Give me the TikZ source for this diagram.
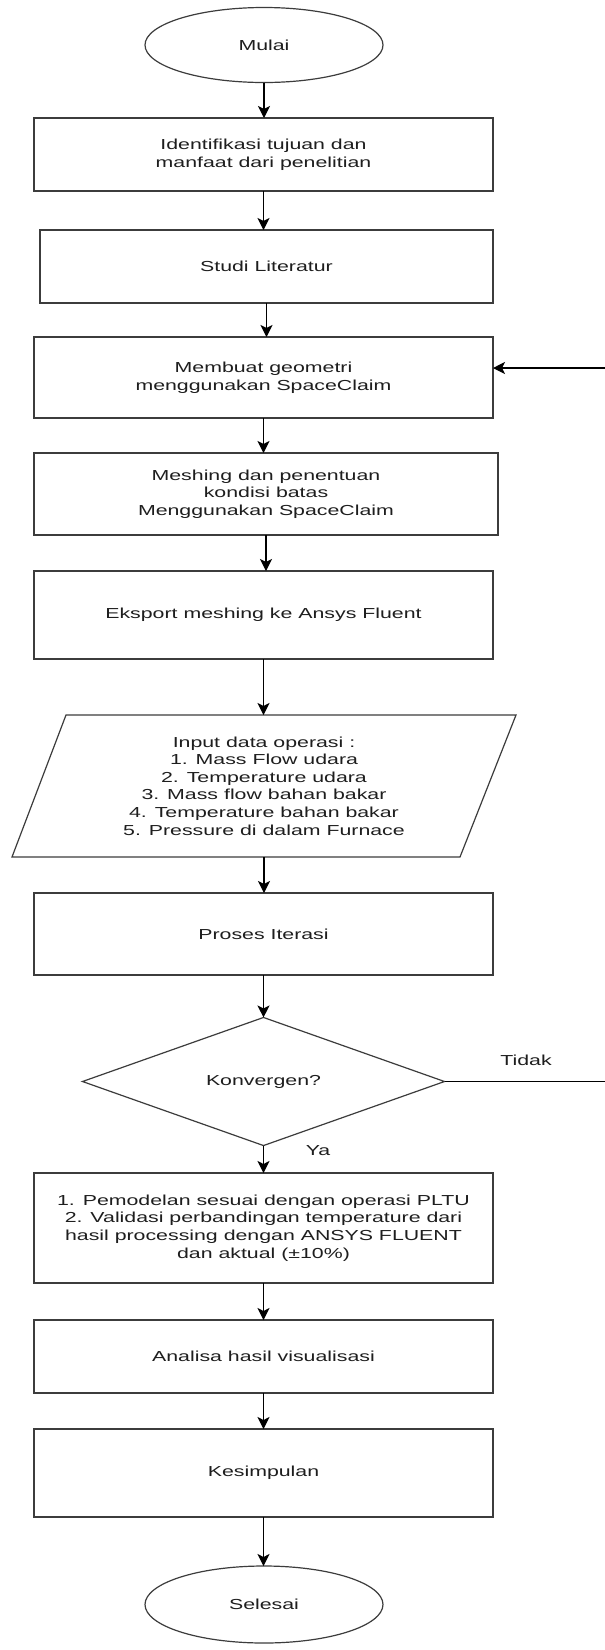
\documentclass[tikz,border=0pt]{standalone}
\usepackage{fontspec}
\setmainfont{Liberation Sans}[FakeStretch=1.47]
\usepackage{tikz}
\usetikzlibrary{arrows.meta, shapes.geometric, calc}
\definecolor{Garis}{RGB}{60,60,60}
\definecolor{Teks} {RGB}{30,30,30}

\begin{document}
\begin{tikzpicture}[x=1pt, y=-1pt, font=\fontsize{14.5}{17.6}\selectfont, text=Teks,
    kotak/.style={draw=Garis, line width=1.2pt, minimum width=459pt, align=center, inner sep=0pt, outer sep=0pt},
    oval/.style={draw=Garis, ellipse, line width=1.2pt, minimum width=238pt, minimum height=75pt, inner sep=0pt, outer sep=0pt},
    belah/.style={draw=Garis, diamond, line width=1.2pt, minimum width=362pt, minimum height=109pt, inner sep=0pt, outer sep=0pt},
    panah/.style={-{Stealth[length=12pt, width=12pt, inset=3pt]}, line width=1.2pt}]
  \fill[white] (0,0) rectangle (605,1650);
  \useasboundingbox (0,0) rectangle (605,1650);

  \node[oval] (mulai) at (264,45) {Mulai};
  \node[kotak, minimum height=73pt] (identifikasi) at (263.5,154.5) {Identifikasi tujuan dan\\manfaat dari penelitian};
  \node[kotak, minimum height=73pt, minimum width=453pt] (studi) at (266.5,266.5) {Studi Literatur};
  \node[kotak, minimum height=81pt] (geometri) at (263.5,377.5) {Membuat geometri\\menggunakan SpaceClaim};
  \node[kotak, minimum height=82pt, minimum width=464pt] (meshing) at (266,494) {Meshing dan penentuan\\kondisi batas\\Menggunakan SpaceClaim};
  \node[kotak, minimum height=88pt] (eksport) at (263.5,615) {Eksport meshing ke Ansys Fluent};
  \node[align=center, minimum width=504pt, minimum height=142pt, inner sep=0pt, outer sep=0pt] (input) at (264,786)
    {Input data operasi :\\1. Mass Flow udara\\2. Temperature udara\\3. Mass flow bahan bakar\\4. Temperature bahan bakar\\5. Pressure di dalam Furnace};
  \draw[draw=Garis, line width=1.2pt] ($(input.north west)+(54,0)$) -- (input.north east)
    -- ($(input.south east)+(-56,0)$) -- (input.south west) -- cycle;
  \node[kotak, minimum height=82pt] (iterasi) at (263.5,934) {Proses Iterasi};
  \node[belah] (konvergen) at (263.5,1081.5) {Konvergen?};
  \node[kotak, minimum height=110pt] (pemodelan) at (263.5,1228)
    {1. Pemodelan sesuai dengan operasi PLTU\\2. Validasi perbandingan temperature dari\\hasil processing dengan ANSYS FLUENT\\dan aktual (±10\%)};
  \node[kotak, minimum height=73pt] (analisa) at (263.5,1356.5) {Analisa hasil visualisasi};
  \node[kotak, minimum height=88pt] (kesimpulan) at (263.5,1473) {Kesimpulan};
  \node[oval, minimum height=77pt] (selesai) at (264,1604.5) {Selesai};

  \node (tidak) at (526,1060) {Tidak};
  \node (ya) at (318,1151) {Ya};

  \foreach \a/\b in {mulai/identifikasi, identifikasi/studi, studi/geometri, geometri/meshing,
      meshing/eksport, eksport/input, input/iterasi, iterasi/konvergen, konvergen/pemodelan,
      pemodelan/analisa, analisa/kesimpulan, kesimpulan/selesai}{
    \draw[panah] (\a.south) -- (\a.south |- \b.north);
  }
  \coordinate (balik) at (612,368);
  \draw[panah] (konvergen.east) -| (balik) -- (balik -| geometri.east);
\end{tikzpicture}
\end{document}
